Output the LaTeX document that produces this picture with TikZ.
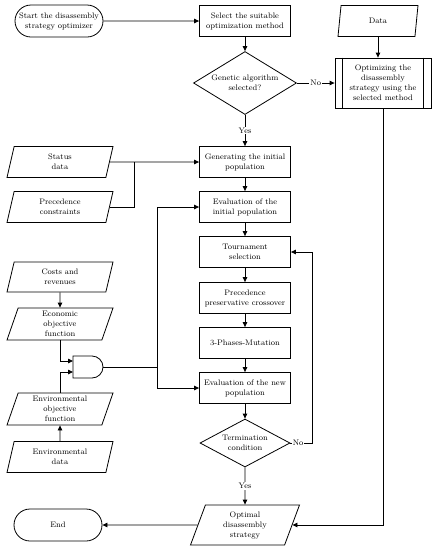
\documentclass[tikz,border=0pt]{standalone}
\usetikzlibrary{shapes.geometric,shapes.misc,arrows.meta,calc}
\begin{document}
\begin{tikzpicture}[x=1pt,y=-1pt,
  every node/.style={font=\fontsize{8}{10}\selectfont, align=center, inner sep=1pt},
  ln/.style={line width=0.8pt, draw=black},
  arr/.style={ln, -{Triangle[length=5pt,width=4.5pt]}},
  procbox/.style={ln, rectangle, minimum width=91pt, minimum height=31pt},
  term/.style={ln, rounded rectangle, minimum width=90pt, minimum height=32pt},
  iobox/.style={ln, trapezium, trapezium left angle=68, trapezium right angle=112,
     trapezium stretches body, minimum width=#1, minimum height=31pt, inner xsep=2pt},
  iobox/.default=106pt,
  dec/.style={ln, diamond, inner sep=0pt, aspect=1.6},
  lbl/.style={fill=white, inner sep=1pt}
]
\useasboundingbox (0,0) rectangle (432,550);

% top row
\node[term] (start) at (59,21) {Start the disassembly\\strategy optimizer};
\node[procbox] (sel) at (245,21) {Select the suitable\\optimization method};
\node[dec, minimum width=103pt, minimum height=63pt] (ga) at (245,83) {Genetic algorithm\\selected?};
\node[iobox=80pt] (data) at (378,21) {Data};
\node[ln, rectangle, minimum width=96pt, minimum height=50pt] (opt) at (383,83) {Optimizing the\\disassembly\\strategy using the\\selected method};
\draw[ln] ([xshift=8pt]opt.north west) -- ([xshift=8pt]opt.south west);
\draw[ln] ([xshift=-8pt]opt.north east) -- ([xshift=-8pt]opt.south east);

% main column
\node[procbox] (gen) at (245,162) {Generating the initial\\population};
\node[procbox] (evi) at (245,207) {Evaluation of the\\initial population};
\node[procbox] (tour) at (245,252) {Tournament\\selection};
\node[procbox] (cross) at (245,298) {Precedence\\preservative crossover};
\node[procbox] (mut) at (245,343) {3-Phases-Mutation};
\node[procbox] (evn) at (245,388) {Evaluation of the new\\population};
\node[dec, minimum width=90pt, minimum height=48pt] (termc) at (245,443) {Termination\\condition};
\node[ln, trapezium, trapezium left angle=63, trapezium right angle=117,
  trapezium stretches body, minimum width=109pt, minimum height=40pt] (optimal) at (245,525) {Optimal\\disassembly\\strategy};
\node[term] (end) at (58,525) {End};

% left column
\node[iobox] (status) at (60,162) {Status\\data};
\node[iobox] (prec) at (60,207) {Precedence\\constraints};
\node[iobox, minimum height=30pt] (costs) at (60,277) {Costs and\\revenues};
\node[iobox, minimum height=32pt] (econ) at (60,324) {Economic\\objective\\function};
\node[iobox, minimum height=32pt] (envo) at (60,409) {Environmental\\objective\\function};
\node[iobox] (envd) at (60,457) {Environmental\\data};

% AND gate
\draw[ln] (73,356) -- (92,356) arc[start angle=90, end angle=-90, radius=11pt] -- (73,378) -- cycle;
\coordinate (gin1) at (73,361);
\coordinate (gin2) at (73,372);
\coordinate (gout) at (103,367);
\coordinate (bus) at (157,367);
\coordinate (jn) at (134,162);

% connectors
\draw[arr] (start) -- (sel);
\draw[arr] (sel) -- (ga);
\draw[arr] (ga.east) -- node[lbl] {No} (opt.west);
\draw[arr] (ga.south) -- node[lbl] {Yes} (gen.north);
\draw[arr] (data.south) -- (data.south |- opt.north);
\draw[arr] (opt.south) |- (optimal.east);
\draw[arr] (status.east) -- (gen.west);
\draw[ln] (prec.east) -| (jn);
\draw[arr] (gen) -- (evi);
\draw[arr] (evi) -- (tour);
\draw[arr] (tour) -- (cross);
\draw[arr] (cross) -- (mut);
\draw[arr] (mut) -- (evn);
\draw[arr] (evn) -- (termc);
\draw[arr] (termc.east) -- node[lbl, pos=0.35] {No} ++(22,0) |- (tour.east);
\draw[arr] (termc.south) -- node[lbl] {Yes} (optimal.north);
\draw[arr] (optimal.west) -- (end.east);
\draw[arr] (costs.south) -- (econ.north);
\draw[arr] (econ.south) |- (gin1);
\draw[arr] (envd.north) -- (envo.south);
\draw[arr] (envo.north) |- (gin2);
\draw[ln] (gout) -- (bus);
\draw[arr] (bus) |- (evi.west);
\draw[arr] (bus) |- (evn.west);
\end{tikzpicture}
\end{document}
